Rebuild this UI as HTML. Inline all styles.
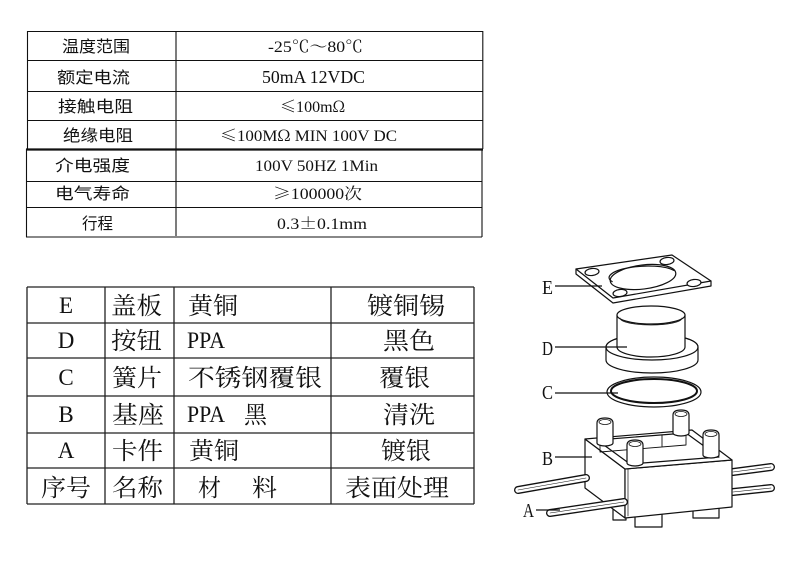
<!DOCTYPE html>
<html><head><meta charset="utf-8"><style>
html,body{margin:0;padding:0;background:#fff;}
body{width:790px;height:562px;overflow:hidden;}
svg{display:block;}
.lb{font-family:"Liberation Sans","Noto Sans CJK SC",sans-serif;font-size:16px;fill:#111;}
.vl{font-family:"Liberation Serif","Noto Serif CJK SC",serif;font-size:16px;fill:#111;}
.cj{font-family:"Noto Serif CJK SC",serif;}
.bt{font-family:"Liberation Serif","Noto Serif CJK SC",serif;font-size:24px;fill:#111;}
.lt{font-family:"Liberation Serif",serif;font-size:23px;fill:#111;}
.dl{font-family:"Liberation Serif",serif;font-size:20px;fill:#111;}
</style></head><body>
<svg width="790" height="562" viewBox="0 0 790 562" xmlns="http://www.w3.org/2000/svg">
<!-- top table lines -->
<g stroke="#111" stroke-width="1.1" fill="none">
<path d="M27 31.5H483M27 60.5H483M27 91.5H483M27 120.5H483M26 181.5H482M26 207.5H482M26 237H482"/>
<path d="M27.5 31V149M482.8 31V149M26.5 149V237M482 149V237M176 31V236"/>
<path d="M26 149.5H483" stroke-width="2.2"/>
</g>
<!-- top table text -->
<text class="lb" x="62" y="52" textLength="68" lengthAdjust="spacingAndGlyphs">温度范围</text>
<text class="lb" x="57" y="83" textLength="73" lengthAdjust="spacingAndGlyphs">额定电流</text>
<text class="lb" x="58" y="112" textLength="75" lengthAdjust="spacingAndGlyphs">接触电阻</text>
<text class="lb" x="63" y="141" textLength="70" lengthAdjust="spacingAndGlyphs">绝缘电阻</text>
<text class="lb" x="55" y="171" textLength="75" lengthAdjust="spacingAndGlyphs">介电强度</text>
<text class="lb" x="55" y="199" textLength="75" lengthAdjust="spacingAndGlyphs">电气寿命</text>
<text class="lb" x="82" y="229" textLength="31" lengthAdjust="spacingAndGlyphs">行程</text>

<text class="vl" x="268" y="52" textLength="95" lengthAdjust="spacingAndGlyphs">-25<tspan class="cj">℃～</tspan>80<tspan class="cj">℃</tspan></text>
<text class="vl" x="262" y="83" style="font-size:18px" textLength="103" lengthAdjust="spacingAndGlyphs">50mA 12VDC</text>
<text class="vl" x="280" y="112" textLength="65" lengthAdjust="spacingAndGlyphs"><tspan class="cj">≤</tspan>100m<tspan class="cj">Ω</tspan></text>
<text class="vl" x="220" y="141" textLength="177" lengthAdjust="spacingAndGlyphs"><tspan class="cj">≤</tspan>100M<tspan class="cj">Ω</tspan>  MIN 100V DC</text>
<text class="vl" x="255" y="171" textLength="123" lengthAdjust="spacingAndGlyphs">100V 50HZ 1Min</text>
<text class="vl" x="273" y="199" textLength="89" lengthAdjust="spacingAndGlyphs"><tspan class="cj">≥</tspan>100000次</text>
<text class="vl" x="277" y="229" textLength="90" lengthAdjust="spacingAndGlyphs">0.3<tspan class="cj">±</tspan>0.1mm</text>

<!-- bottom table lines -->
<g stroke="#222" stroke-width="1.3" fill="none">
<path d="M27 287H474M27 323H474M27 358H474M27 396H474M27 433H474M27 468H474M27 504H474"/>
<path d="M27 287V504M105 287V504M174 287V504M331 287V504M474 287V504"/>
</g>
<!-- bottom table text -->
<text class="lt" x="66" y="313" text-anchor="middle">E</text>
<text class="lt" x="66" y="348" text-anchor="middle">D</text>
<text class="lt" x="66" y="385" text-anchor="middle">C</text>
<text class="lt" x="66" y="422" text-anchor="middle">B</text>
<text class="lt" x="66" y="458" text-anchor="middle">A</text>
<text class="bt" x="41" y="496" textLength="50" lengthAdjust="spacingAndGlyphs">序号</text>

<text class="bt" x="111" y="314" textLength="51" lengthAdjust="spacingAndGlyphs">盖板</text>
<text class="bt" x="111" y="349" textLength="51" lengthAdjust="spacingAndGlyphs">按钮</text>
<text class="bt" x="112" y="386" textLength="50" lengthAdjust="spacingAndGlyphs">簧片</text>
<text class="bt" x="112" y="423" textLength="52" lengthAdjust="spacingAndGlyphs">基座</text>
<text class="bt" x="112" y="459" textLength="51" lengthAdjust="spacingAndGlyphs">卡件</text>
<text class="bt" x="112" y="496" textLength="51" lengthAdjust="spacingAndGlyphs">名称</text>

<text class="bt" x="188" y="314" textLength="50" lengthAdjust="spacingAndGlyphs">黄铜</text>
<text class="lt" x="187" y="348" textLength="38" lengthAdjust="spacingAndGlyphs">PPA</text>
<text class="bt" x="188" y="386" textLength="134" lengthAdjust="spacingAndGlyphs">不锈钢覆银</text>
<text class="lt" x="187" y="422" textLength="38" lengthAdjust="spacingAndGlyphs">PPA</text>
<text class="bt" x="244" y="423" textLength="23" lengthAdjust="spacingAndGlyphs">黑</text>
<text class="bt" x="189" y="459" textLength="50" lengthAdjust="spacingAndGlyphs">黄铜</text>
<text class="bt" x="198" y="496" textLength="23" lengthAdjust="spacingAndGlyphs">材</text>
<text class="bt" x="252" y="496" textLength="25" lengthAdjust="spacingAndGlyphs">料</text>

<text class="bt" x="367" y="314" textLength="78" lengthAdjust="spacingAndGlyphs">镀铜锡</text>
<text class="bt" x="383" y="349" textLength="52" lengthAdjust="spacingAndGlyphs">黑色</text>
<text class="bt" x="379" y="386" textLength="51" lengthAdjust="spacingAndGlyphs">覆银</text>
<text class="bt" x="383" y="423" textLength="52" lengthAdjust="spacingAndGlyphs">清洗</text>
<text class="bt" x="381" y="459" textLength="50" lengthAdjust="spacingAndGlyphs">镀银</text>
<text class="bt" x="345" y="496" textLength="104" lengthAdjust="spacingAndGlyphs">表面处理</text>

<!-- ===== exploded diagram ===== -->
<g fill="#fff" stroke="#111" stroke-width="1.2" stroke-linejoin="round" stroke-linecap="round">
<!-- E plate -->
<path d="M576,269 L672,255 L711,281 L711,286 L613,303 L576,274 Z"/>
<path d="M576,269 L613,298 L711,281" fill="none"/>
<ellipse cx="643" cy="277" rx="33" ry="12" transform="rotate(-7 643 277)"/>
<path d="M612,280 A31,9 0 0 1 674,272" fill="none" transform="rotate(-3 643 277)"/>
<ellipse cx="592" cy="272" rx="7" ry="3.5" transform="rotate(-7 592 272)"/>
<ellipse cx="667" cy="261" rx="7" ry="3.5" transform="rotate(-7 667 261)"/>
<ellipse cx="694" cy="283" rx="7" ry="3.5" transform="rotate(-7 694 283)"/>
<ellipse cx="620" cy="293" rx="7" ry="3.5" transform="rotate(-7 620 293)"/>

<!-- D button -->
<path d="M606,347 L606,360 A46,13 0 0 0 698,360 L698,347 A46,13 0 0 0 606,347 Z"/>
<ellipse cx="652" cy="347" rx="46" ry="13" fill="none"/>
<path d="M617,315 L617,347 A34,10 0 0 0 685,347 L685,315 Z"/>
<ellipse cx="651" cy="315" rx="34" ry="9"/>
<path d="M620,318 A31,7 0 0 0 682,318" fill="none" stroke-width="0.8"/>

<!-- C ring -->
<ellipse cx="654" cy="392" rx="47" ry="15" stroke-width="1.2"/>
<ellipse cx="654" cy="391" rx="43" ry="12" fill="none" stroke-width="2"/>

<!-- B base: feet -->
<rect x="613" y="508" width="13" height="12"/>
<rect x="635" y="512" width="27" height="15"/>
<rect x="693" y="505" width="26" height="13"/>

<!-- right pins -->
<g>
<line x1="733" y1="472" x2="771" y2="467" stroke-width="8"/>
<line x1="733" y1="472" x2="771" y2="467" stroke="#fff" stroke-width="5.4"/>
<line x1="733" y1="472" x2="771" y2="467" stroke-width="0.6"/>
<line x1="733" y1="492" x2="771" y2="488" stroke-width="8"/>
<line x1="733" y1="492" x2="771" y2="488" stroke="#fff" stroke-width="5.4"/>
<line x1="733" y1="492" x2="771" y2="488" stroke-width="0.6"/>
</g>

<!-- box faces -->
<path d="M585,439 L625,469 L625,518 L585,488 Z"/>
<path d="M625,469 L732,460 L732,507 L625,518 Z"/>
<path d="M585,439 L692,430 L732,460 L625,469 Z"/>
<!-- cavity -->
<path d="M597,440 L686,433 L719,457 L630,464 Z"/>
<path d="M600,452 L686,445 M662,435 L662,447 M686,433 L686,445 M600,441 L600,452" fill="none" stroke-width="0.9"/>
<path d="M628,469 L628,516" fill="none" stroke-width="0.7"/>

<!-- pillars -->
<path d="M597,443 L597,423 Q597,418 605,418 Q613,418 613,423 L613,443 A8,3 0 0 1 597,443 Z"/>
<ellipse cx="605" cy="422" rx="6" ry="2.5" fill="none" stroke-width="0.8"/>
<path d="M673,433 L673,415 Q673,410 681,410 Q689,410 689,415 L689,433 A8,3 0 0 1 673,433 Z"/>
<ellipse cx="681" cy="414" rx="6" ry="2.5" fill="none" stroke-width="0.8"/>
<path d="M703,455 L703,435 Q703,430 711,430 Q719,430 719,435 L719,455 A8,3 0 0 1 703,455 Z"/>
<ellipse cx="711" cy="434" rx="6" ry="2.5" fill="none" stroke-width="0.8"/>
<path d="M627,463 L627,445 Q627,440 635,440 Q643,440 643,445 L643,463 A8,3 0 0 1 627,463 Z"/>
<ellipse cx="635" cy="444" rx="6" ry="2.5" fill="none" stroke-width="0.8"/>

<!-- left pins -->
<line x1="518" y1="490" x2="586" y2="478" stroke-width="8"/>
<line x1="518" y1="490" x2="586" y2="478" stroke="#fff" stroke-width="5.4"/>
<line x1="518" y1="490" x2="586" y2="478" stroke-width="0.6"/>
<line x1="550" y1="513" x2="624" y2="502" stroke-width="8"/>
<line x1="550" y1="513" x2="624" y2="502" stroke="#fff" stroke-width="5.4"/>
<line x1="550" y1="513" x2="624" y2="502" stroke-width="0.6"/>
</g>

<!-- leaders -->
<g stroke="#111" stroke-width="1.2">
<line x1="555" y1="286" x2="602" y2="286"/>
<line x1="555" y1="347" x2="627" y2="347"/>
<line x1="555" y1="393" x2="618" y2="393"/>
<line x1="555" y1="457" x2="592" y2="457"/>
<line x1="536" y1="510" x2="560" y2="510"/>
</g>
<text class="dl" x="542" y="294" textLength="11" lengthAdjust="spacingAndGlyphs">E</text>
<text class="dl" x="542" y="355" textLength="11" lengthAdjust="spacingAndGlyphs">D</text>
<text class="dl" x="542" y="399" textLength="11" lengthAdjust="spacingAndGlyphs">C</text>
<text class="dl" x="542" y="465" textLength="11" lengthAdjust="spacingAndGlyphs">B</text>
<text class="dl" x="523" y="517" textLength="11" lengthAdjust="spacingAndGlyphs">A</text>
</svg>
</body></html>
